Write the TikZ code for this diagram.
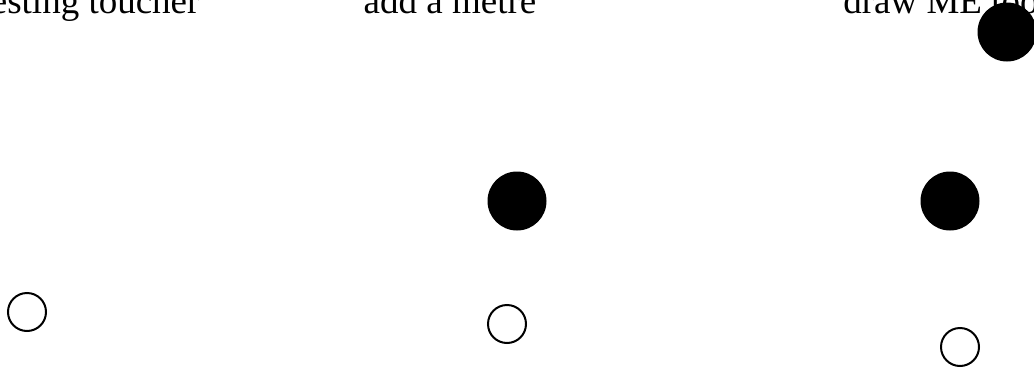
\documentclass[tikz,border=0pt]{standalone}
\usepackage{fontspec}
\setmainfont{Liberation Serif}
\begin{document}
\begin{tikzpicture}[x=1pt,y=-1pt,
  lbl/.style={anchor=base,inner sep=0pt,font=\fontsize{37}{44}\selectfont},
  dot/.style={circle,fill=black,inner sep=0pt,minimum size=59pt},
  ring/.style={circle,draw=black,line width=2pt,inner sep=0pt,minimum size=38pt}]
\useasboundingbox (0,0) rectangle (1034,367);
\clip (0,0) rectangle (1034,367);
\node[lbl] (t1) at (90,13) {testing toucher};
\node[lbl] (t2) at (450,13) {add a metre};
\node[lbl] (t3) at (941,13) {draw ME too};
\node[dot] (d1) at (1007,32) {};
\node[dot] (d2) at (517,201) {};
\node[dot] (d3) at (950,201) {};
\node[ring] (r1) at (27,312) {};
\node[ring] (r2) at (507,324) {};
\node[ring] (r3) at (960,347) {};
\end{tikzpicture}
\end{document}
